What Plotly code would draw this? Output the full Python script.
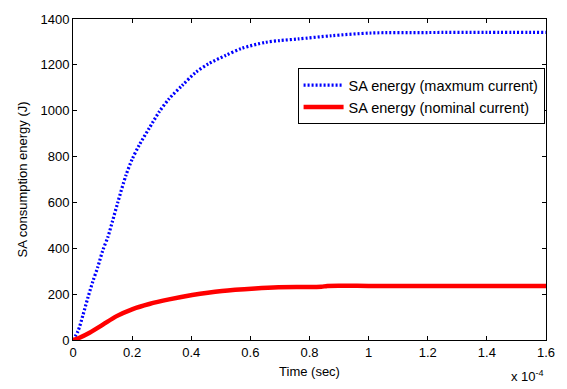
import plotly.graph_objects as go

# Time in units of 1e-4 s
t_max = [0, 0.017, 0.034, 0.050, 0.067, 0.084, 0.101, 0.118, 0.134, 0.151, 0.179,
         0.2, 0.224, 0.258, 0.291, 0.325, 0.37, 0.415, 0.459, 0.516, 0.571, 0.65,
         0.7, 0.762, 0.874, 1.008, 1.2, 1.4, 1.6]
e_max = [0, 39, 110, 183, 255, 319, 392, 449, 520, 598, 718,
         788, 850, 924, 994, 1052, 1111, 1167, 1205, 1241, 1272, 1298,
         1306, 1313, 1327, 1339, 1341, 1342, 1342]

t_nom = [0, 0.011, 0.056, 0.101, 0.146, 0.202, 0.258, 0.325, 0.403, 0.504,
         0.616, 0.695, 0.84, 0.86, 1.0, 1.2, 1.4, 1.6]
e_nom = [0, 4, 32, 67, 103, 135, 157, 177, 196, 214,
         225, 230, 232, 236, 236, 236, 236, 236]

x_ticks = [0, 0.2, 0.4, 0.6, 0.8, 1, 1.2, 1.4, 1.6]
x_labels = ["0", "0.2", "0.4", "0.6", "0.8", "1", "1.2", "1.4", "1.6"]
y_ticks = [0, 200, 400, 600, 800, 1000, 1200, 1400]

FONT = "Liberation Sans, Arial, sans-serif"

fig = go.Figure()
fig.add_trace(go.Scatter(x=t_max, y=e_max, mode="lines",
                         name="SA energy (maxmum current)",
                         line=dict(color="#0000ff", width=3.2, dash="2px,2px",
                                   shape="spline", smoothing=0.8)))
fig.add_trace(go.Scatter(x=t_nom, y=e_nom, mode="lines",
                         name="SA energy (nominal current)",
                         line=dict(color="#ff0000", width=4.5,
                                   shape="spline", smoothing=0.6)))

axis_common = dict(showline=True, linecolor="black", linewidth=1, mirror="ticks",
                   ticks="inside", ticklen=4, tickcolor="black", showgrid=False,
                   zeroline=False, tickfont=dict(family=FONT, size=13, color="black"))

fig.update_xaxes(range=[0, 1.6], tickvals=x_ticks, ticktext=x_labels,
                 title=dict(text="Time (sec)", font=dict(family=FONT, size=13, color="black"),
                            standoff=8),
                 **axis_common)
fig.update_yaxes(range=[0, 1400], tickvals=y_ticks,
                 title=dict(text="SA consumption energy (J)",
                            font=dict(family=FONT, size=13, color="black"), standoff=9),
                 **axis_common)

fig.add_annotation(text="x 10<sup>-4</sup>", xref="paper", yref="paper",
                   x=1.0, y=-0.142, xanchor="right", yanchor="bottom", showarrow=False,
                   font=dict(family=FONT, size=13, color="black"))

fig.update_layout(
    width=567, height=389,
    margin=dict(l=73, r=18, t=17, b=48),
    paper_bgcolor="white", plot_bgcolor="white",
    font=dict(family=FONT, size=13, color="black"),
    legend=dict(x=0.997, y=0.847, xanchor="right", yanchor="top",
                bgcolor="white", bordercolor="black", borderwidth=1,
                font=dict(family=FONT, size=14.5, color="black"),
                tracegroupgap=0, itemwidth=40),
)

fig.write_html("out.html")
